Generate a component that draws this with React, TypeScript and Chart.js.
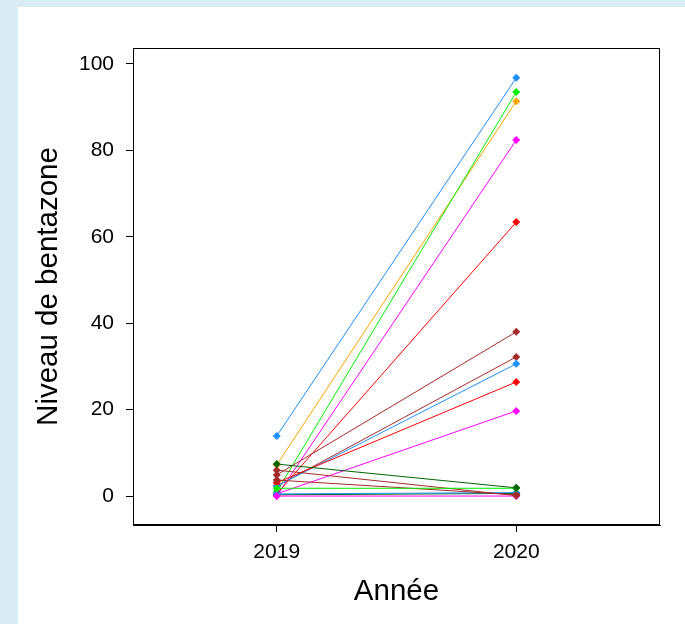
import { useEffect, useRef } from "react";
import { Chart, registerables } from "chart.js";

Chart.register(...registerables);

// Year categories (x positions)
const years = [2019, 2020];
// Level of bentazone per sample in 2019 and 2020
const values2019 = [13.9, 7.2, 1.0, 0.0, 0.5, 4.9, 2.3, 2.3, 3.1, 0.5, 0.3, 0.5, 0.0, 3.7, 6.0, 1.8, 7.4];
const values2020 = [96.8, 91.4, 93.5, 82.4, 63.4, 38.0, 32.2, 30.6, 26.4, 19.7, 0.6, 0.8, 0.0, 0.3, 0.1, 1.8, 1.9];
const lineColors = [
  "#1E90FF", "#FFA500", "#00EE00", "#FF00FF", "#FF0000", "#A52A2A", "#A52A2A", "#1E90FF",
  "#FF0000", "#FF00FF", "#006400", "#1E90FF", "#FF00FF", "#A52A2A", "#A52A2A", "#00EE00", "#006400",
];
const yTicks = [0, 20, 40, 60, 80, 100];

const FONT = "'Liberation Sans', Arial, Helvetica, sans-serif";

const boxPlugin = {
  id: "boxPlugin",
  afterDraw(chart: any) {
    const { ctx, chartArea } = chart;
    ctx.save();
    ctx.strokeStyle = "#000";
    ctx.lineWidth = 1;
    const l = Math.round(chartArea.left) + 0.5;
    const t = Math.round(chartArea.top) + 0.5;
    const r = Math.round(chartArea.right) - 0.5;
    const b = Math.round(chartArea.bottom) - 0.5;
    ctx.strokeRect(l, t, r - l, b - t);
    ctx.restore();
  },
};

export default function App() {
  const ref = useRef<HTMLCanvasElement | null>(null);

  useEffect(() => {
    if (!ref.current) return;
    const n = values2019.length;
    const datasets = values2019.map((v, i) => ({
      label: "s" + (i + 1),
      data: [
        { x: years[0], y: v },
        { x: years[1], y: values2020[i] },
      ],
      order: n - i,
      showLine: true,
      borderColor: lineColors[i],
      backgroundColor: lineColors[i],
      borderWidth: 1,
      pointStyle: "rectRot",
      pointRadius: 4,
      pointBorderWidth: 0,
      pointBackgroundColor: lineColors[i],
    }));

    const chart = new Chart(ref.current, {
      type: "scatter",
      data: { datasets },
      options: {
        animation: false,
        responsive: false,
        events: [],
        layout: { padding: { left: 0, top: 41, right: 25, bottom: 0 } },
        plugins: { legend: { display: false }, tooltip: { enabled: false } },
        scales: {
          x: {
            type: "linear",
            min: 2018.4,
            max: 2020.6,
            afterBuildTicks: (s: any) => {
              s.ticks = years.map((v) => ({ value: v }));
            },
            afterFit: (s: any) => {
              s.height = 99;
            },
            grid: { drawOnChartArea: false, drawTicks: true, tickLength: 7, color: "#000", tickColor: "#000" },
            border: { display: true, color: "#000", width: 1 },
            ticks: {
              color: "#000",
              font: { family: FONT, size: 21 },
              padding: 8,
              callback: (v: any) => String(v),
            },
            title: {
              display: true,
              text: "Année",
              color: "#000",
              font: { family: FONT, size: 29.5 },
              padding: { top: 0, bottom: 14 },
            },
          },
          y: {
            type: "linear",
            min: -6.7,
            max: 103.7,
            afterBuildTicks: (s: any) => {
              s.ticks = yTicks.map((v) => ({ value: v }));
            },
            afterFit: (s: any) => {
              s.width = 115;
            },
            grid: { drawOnChartArea: false, drawTicks: true, tickLength: 7, color: "#000", tickColor: "#000" },
            border: { display: true, color: "#000", width: 1 },
            ticks: {
              color: "#000",
              font: { family: FONT, size: 21 },
              padding: 12,
              callback: (v: any) => String(v),
            },
            title: {
              display: true,
              text: "Niveau de bentazone",
              color: "#000",
              font: { family: FONT, size: 29.5 },
              padding: { top: 13, bottom: 0 },
            },
          },
        },
      },
      plugins: [boxPlugin],
    });
    return () => chart.destroy();
  }, []);

  return (
    <div style={{ position: "fixed", left: 0, top: 0, width: 685, height: 624, background: "#dbedf4", overflow: "hidden" }}>
      <div style={{ position: "absolute", left: 18, top: 7, width: 667, height: 617, background: "#fff" }}>
        <canvas ref={ref} width={667} height={617} style={{ display: "block" }} />
      </div>
    </div>
  );
}
